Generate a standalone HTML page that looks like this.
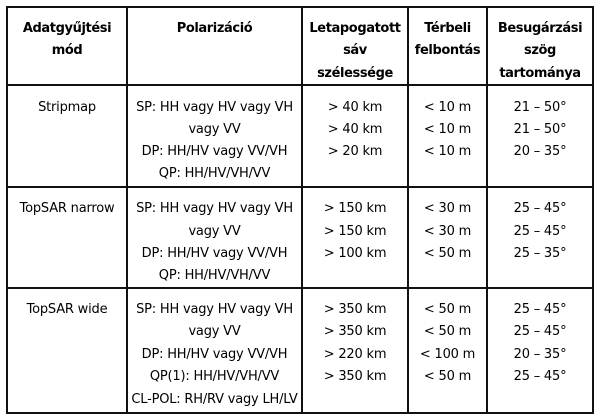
<!DOCTYPE html>
<html>
<head>
<meta charset="utf-8">
<style>
html,body{margin:0;padding:0;background:#fff;}
#w{position:relative;width:600px;height:420px;overflow:hidden;background:#fff;font-family:"DejaVu Sans","Liberation Sans",sans-serif;color:#000;}
.v{position:absolute;width:2px;background:#111;top:6px;height:408px;}
.h{position:absolute;height:2px;background:#111;left:6px;width:588px;}
.c{position:absolute;text-align:center;white-space:nowrap;font-size:13px;letter-spacing:-0.2px;}
.hd{font-weight:bold;font-size:13px;letter-spacing:-0.4px;line-height:22.6px;top:17.5px;}
.r1{line-height:21.9px;top:97.2px;}
.r2{line-height:22.3px;top:198.3px;}
.r3{line-height:22.5px;top:298.5px;}
.c1{left:7px;width:120px;}
.c2{left:127px;width:175px;}
.c3{left:302px;width:106px;}
.c4{left:408px;width:79px;}
.c5{left:487px;width:106px;}
</style>
</head>
<body>
<div id="w">
  <div class="v" style="left:6px"></div>
  <div class="v" style="left:126px"></div>
  <div class="v" style="left:301px"></div>
  <div class="v" style="left:407px"></div>
  <div class="v" style="left:486px"></div>
  <div class="v" style="left:592px"></div>
  <div class="h" style="top:6px"></div>
  <div class="h" style="top:84px"></div>
  <div class="h" style="top:186px"></div>
  <div class="h" style="top:287px"></div>
  <div class="h" style="top:412px"></div>

  <div class="c hd c1">Adatgyűjtési<br>mód</div>
  <div class="c hd c2">Polarizáció</div>
  <div class="c hd c3">Letapogatott<br>sáv<br>szélessége</div>
  <div class="c hd c4">Térbeli<br>felbontás</div>
  <div class="c hd c5">Besugárzási<br>szög<br>tartománya</div>

  <div class="c r1 c1">Stripmap</div>
  <div class="c r1 c2">SP: HH vagy HV vagy VH<br>vagy VV<br>DP: HH/HV vagy VV/VH<br>QP: HH/HV/VH/VV</div>
  <div class="c r1 c3">&gt; 40 km<br>&gt; 40 km<br>&gt; 20 km</div>
  <div class="c r1 c4">&lt; 10 m<br>&lt; 10 m<br>&lt; 10 m</div>
  <div class="c r1 c5">21 – 50°<br>21 – 50°<br>20 – 35°</div>

  <div class="c r2 c1">TopSAR narrow</div>
  <div class="c r2 c2">SP: HH vagy HV vagy VH<br>vagy VV<br>DP: HH/HV vagy VV/VH<br>QP: HH/HV/VH/VV</div>
  <div class="c r2 c3">&gt; 150 km<br>&gt; 150 km<br>&gt; 100 km</div>
  <div class="c r2 c4">&lt; 30 m<br>&lt; 30 m<br>&lt; 50 m</div>
  <div class="c r2 c5">25 – 45°<br>25 – 45°<br>25 – 35°</div>

  <div class="c r3 c1">TopSAR wide</div>
  <div class="c r3 c2">SP: HH vagy HV vagy VH<br>vagy VV<br>DP: HH/HV vagy VV/VH<br>QP(1): HH/HV/VH/VV<br>CL-POL: RH/RV vagy LH/LV</div>
  <div class="c r3 c3">&gt; 350 km<br>&gt; 350 km<br>&gt; 220 km<br>&gt; 350 km</div>
  <div class="c r3 c4">&lt; 50 m<br>&lt; 50 m<br>&lt; 100 m<br>&lt; 50 m</div>
  <div class="c r3 c5">25 – 45°<br>25 – 45°<br>20 – 35°<br>25 – 45°</div>
</div>
</body>
</html>
